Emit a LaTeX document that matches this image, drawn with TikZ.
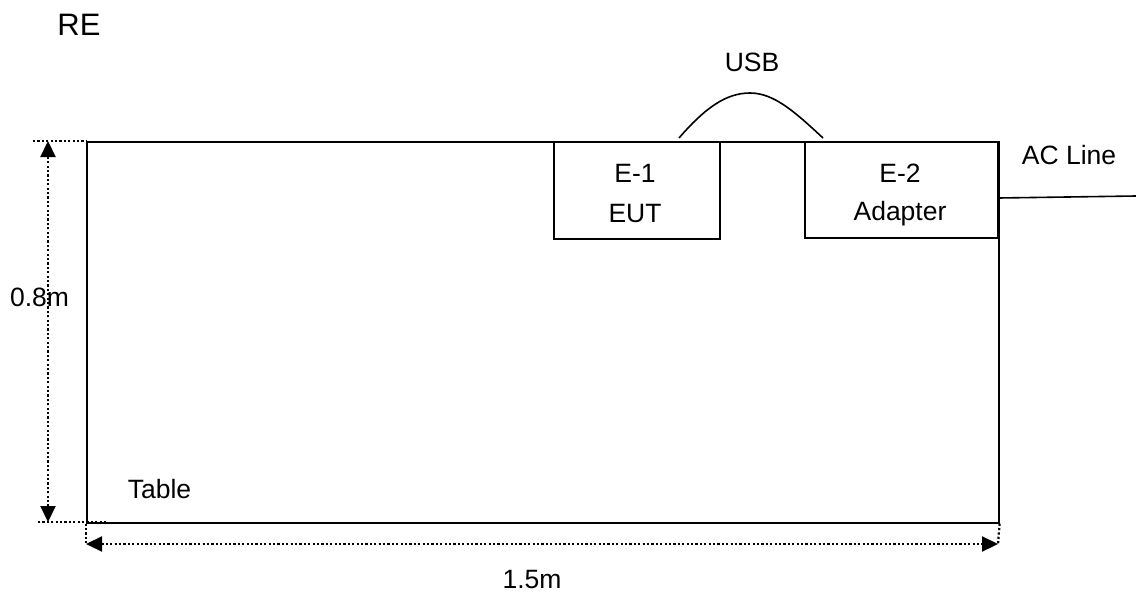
\documentclass[tikz,border=0pt]{standalone}
\usepackage{fontspec}
\setmainfont{Liberation Sans}
\usetikzlibrary{arrows.meta}
\begin{document}
\begin{tikzpicture}[x=1pt,y=-1pt,
  box/.style={draw,line width=1.6pt,inner sep=0pt,anchor=north west},
  lbl/.style={font=\fontsize{26.5}{30}\selectfont,inner sep=0pt},
  dimline/.style={line width=2.2pt,dash pattern=on 2.2pt off 2.2pt},
  dimarrow/.style={dimline,{Triangle[width=15pt,length=16pt]}-{Triangle[width=15pt,length=16pt]}},
  wire/.style={line width=1.6pt}]
\useasboundingbox (0,0) rectangle (1136,597);
\node[box,minimum width=912pt,minimum height=381pt] (table) at (86,141) {};
\node[box,minimum width=166pt,minimum height=97pt] (eut) at (553,141) {};
\node[box,minimum width=193pt,minimum height=96pt] (adp) at (804,141) {};
\node[lbl,font=\fontsize{31}{35}\selectfont] (re) at (79,25) {RE};
\node[lbl] (usb) at (752,62) {USB};
\node[lbl] (e1) at (635,173) {E-1};
\node[lbl] (e1b) at (635,214) {EUT};
\node[lbl] (e2) at (900,173) {E-2};
\node[lbl] (e2b) at (900,214) {Adapter};
\node[lbl] (ac) at (1069,155) {AC Line};
\node[lbl] (tbl) at (159.5,489) {Table};
\node[lbl] (h) at (39.5,297) {0.8m};
\node[lbl] (w) at (532,580) {1.5m};
% USB cable
\coordinate (u1) at (679,138);
\coordinate (u2) at (823,138);
\coordinate (utop) at (750,93);
\draw[wire] (u1) .. controls (705,108) and (726,93) .. (utop) .. controls (774,93) and (795,112) .. (u2);
% AC line
\coordinate (acend) at (1136,196);
\draw[wire] (adp.east |- 0,198) -- (acend);
% dimension lines
\coordinate (vt) at (48,141);
\coordinate (vb) at (48,522);
\coordinate (hl) at (86,544);
\coordinate (hr) at (998,544);
\draw[dimline] (33,141) -- (table.north west);
\draw[dimline] (38,522) -- (108,522);
\draw[dimline] (table.south west) -- (hl);
\draw[dimline] (table.south east) -- (hr);
\draw[dimarrow] (vb) -- (vt);
\draw[dimarrow] (hl) -- (hr);
\end{tikzpicture}
\end{document}
